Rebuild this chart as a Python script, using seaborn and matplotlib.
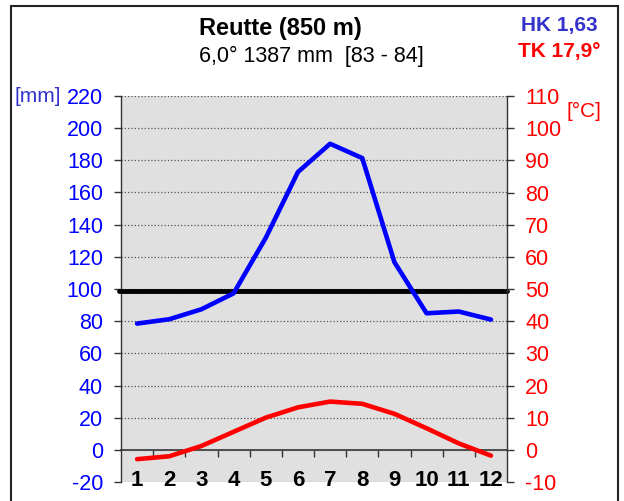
import numpy as np
import pandas as pd
import matplotlib
matplotlib.use('Agg')
import matplotlib.pyplot as plt
from matplotlib.patches import Rectangle
import seaborn as sns

# Climate data, Reutte (850 m)
months = [1, 2, 3, 4, 5, 6, 7, 8, 9, 10, 11, 12]
precip_mm = [78.5, 81.2, 87.4, 97.3, 131.8, 172.7, 190.3, 181.4, 116.7, 84.9, 86.0, 81.0]
temp_c = [-2.9, -2.0, 1.2, 5.6, 10.0, 13.2, 15.0, 14.3, 11.2, 6.7, 2.0, -1.8]
mm_ticks = list(range(-20, 221, 20))
c_ticks = list(range(-10, 111, 10))
humid_line_mm = 99

title = 'Reutte (850 m)'
subtitle = '6,0° 1387 mm  [83 - 84]'
hk_text = 'HK 1,63'
tk_text = 'TK 17,9°'

df = pd.DataFrame({'month': months, 'precip': precip_mm, 'temp': temp_c})

sns.set_style('white')
plt.rcParams['font.family'] = ['Liberation Sans', 'DejaVu Sans']
plt.rcParams['axes.unicode_minus'] = False
plt.rcParams['text.color'] = 'black'

fig = plt.figure(figsize=(6.24, 5.01), dpi=100)
ax = fig.add_axes([121 / 624, 19 / 501, 386 / 624, 386 / 501])
ax.set_facecolor('#e0e0e0')

# dotted grid
ax.set_yticks(mm_ticks)
ax.yaxis.grid(True, linestyle=':', color='#555555', linewidth=0.9)
ax.set_axisbelow(True)

# humid / arid line
ax.axhline(humid_line_mm, xmin=-0.005, color='black', lw=3.5, zorder=3, clip_on=False)

sns.lineplot(data=df, x='month', y='precip', ax=ax, color='#0000ff', lw=3.3, zorder=4)

ax2 = ax.twinx()
sns.lineplot(data=df, x='month', y='temp', ax=ax2, color='#ff0000', lw=3.3, zorder=4)

ax.set_xlim(0.5, 12.5)
ax.set_ylim(-20, 220)
ax2.set_ylim(-10, 110)
ax2.set_yticks(c_ticks)
ax.set_xlabel('')
ax.set_ylabel('')
ax2.set_ylabel('')

for a in (ax, ax2):
    for s in a.spines.values():
        s.set_visible(False)
ax.spines['left'].set_visible(True)
ax.spines['left'].set_color('#333333')
ax.spines['left'].set_linewidth(1)
ax2.spines['right'].set_visible(True)
ax2.spines['right'].set_color('#333333')
ax2.spines['right'].set_linewidth(1)

ax.tick_params(axis='y', left=True, length=5, width=1, color='#333333',
               labelsize=15.5, labelcolor='#0000ff', pad=8)
ax2.tick_params(axis='y', right=True, length=5, width=1, color='#333333',
                labelsize=15.5, labelcolor='#ff0000', pad=8)

# month labels centred on the bottom line
ax.set_xticks(months)
ax.set_xticklabels([str(m) for m in months], fontweight='bold', fontsize=16)
ax.tick_params(axis='x', bottom=True, length=0, pad=-1, labelcolor='black')
for lab in ax.get_xticklabels():
    lab.set_va('center')

# zero line with ticks between the months
zero_ax = ax.secondary_xaxis(20 / 240)
zero_ax.spines['bottom'].set_color('#333333')
zero_ax.spines['bottom'].set_linewidth(1.2)
zero_ax.set_xticks([m + 0.5 for m in months[:-1]])
zero_ax.set_xticklabels([])
zero_ax.tick_params(axis='x', length=5, width=1, color='#333333', direction='out')

# texts
fig.text(280 / 624, 1 - 29 / 501, title, ha='center', va='center',
         fontsize=17, fontweight='bold', color='black')
fig.text(311 / 624, 1 - 56 / 501, subtitle, ha='center', va='center',
         fontsize=15.5, color='black')
fig.text(559 / 624, 1 - 26 / 501, hk_text, ha='center', va='center',
         fontsize=15, fontweight='bold', color='#3333cc')
fig.text(559 / 624, 1 - 51 / 501, tk_text, ha='center', va='center',
         fontsize=15, fontweight='bold', color='#ff0000')
fig.text(14 / 624, 1 - 96 / 501, '[mm]', ha='left', va='center',
         fontsize=15, color='#3333cc')
fig.text(566 / 624, 1 - 111 / 501, '[°C]', ha='left', va='center',
         fontsize=15, color='#ff0000')

# outer frame
fig.patches.append(Rectangle((11 / 624, -0.1), 607 / 624, 1.1 - 6 / 501,
                             transform=fig.transFigure, fill=False,
                             edgecolor='#222222', lw=1.5))

fig.savefig('out.png', dpi=100)
